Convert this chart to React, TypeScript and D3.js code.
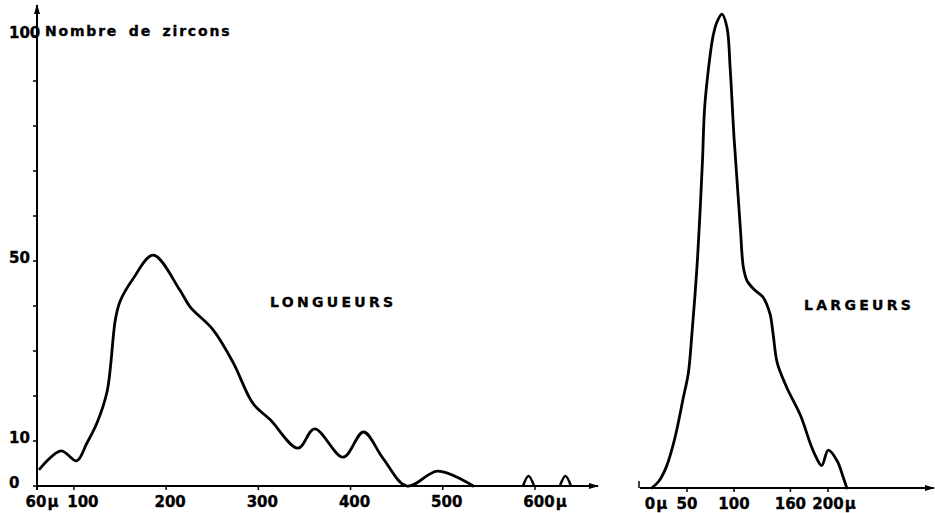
import React, { useRef, useEffect } from 'react';
import * as d3 from 'd3';

// Longueurs (µ) -> nombre de zircons
const longX = [63, 86, 103, 114, 125, 136, 145, 150, 164, 186, 215, 226, 251, 273, 294, 313, 343, 361, 392, 414, 435, 461, 494, 522, 533];
const longY = [3.8, 7.8, 5.6, 9.5, 14, 21, 37, 41, 46, 51.3, 43.5, 39.8, 34.7, 27.3, 18.4, 14.7, 8.4, 12.7, 6.4, 12, 6.2, 0, 3.3, 1.3, 0];
const bump1X = [587, 593, 599];
const bump2X = [627, 633, 639];
const bumpY = [0, 2.2, 0];

// Largeurs (µ) -> nombre de zircons
const largX = [12.4, 20, 28, 37, 46, 51.4, 55.3, 60.6, 63.8, 66.5, 68.6, 72.3, 77.7, 82, 87.2, 92.5, 96, 100, 104, 107, 110, 114, 122, 130.9, 138.3, 141.5, 146, 156, 171, 181, 187, 193.3, 200.3, 209.8, 216, 220];
const largY = [0, 1.5, 4.7, 11, 20, 25.5, 34.4, 49.1, 61.1, 72.9, 84, 92.2, 100.4, 103.6, 105.3, 102.4, 93, 78, 66, 57, 49, 46, 44, 42.4, 38.7, 34.4, 27.8, 22.4, 16, 10, 7, 5, 8.4, 6, 2.5, 0];

const yTicks = [0, 10, 20, 30, 40, 50, 60, 70, 80, 90, 100];
const yLabels = ['0', '10', '50', '100'];
const longTicks = [100, 200, 300, 400, 500, 600];
const longLabels = [
  { v: 60, num: '60', unit: 'µ' },
  { v: 100, num: '100', unit: '' },
  { v: 200, num: '200', unit: '' },
  { v: 300, num: '300', unit: '' },
  { v: 400, num: '400', unit: '' },
  { v: 500, num: '500', unit: '' },
  { v: 600, num: '600', unit: 'µ' },
];
const largTicks = [50, 100, 160, 200];
const largLabels = [
  { v: 0, num: '0', unit: 'µ' },
  { v: 50, num: '50', unit: '' },
  { v: 100, num: '100', unit: '' },
  { v: 160, num: '160', unit: '' },
  { v: 200, num: '200', unit: 'µ' },
];

const FONT = "'DejaVu Sans', sans-serif";

function ZirconChart() {
  const svgRef = useRef<SVGSVGElement>(null);

  useEffect(() => {
    if (!svgRef.current) return;
    const svg = d3.select(svgRef.current);
    svg.selectAll('*').remove();

    svg.append('defs').append('marker')
      .attr('id', 'arrow')
      .attr('viewBox', '0 0 10 6')
      .attr('refX', 9).attr('refY', 3)
      .attr('markerWidth', 10).attr('markerHeight', 6)
      .attr('markerUnits', 'userSpaceOnUse')
      .attr('orient', 'auto')
      .append('path').attr('d', 'M0,0 L10,3 L0,6 Z').attr('fill', '#000');

    // scales
    const xL = d3.scaleLinear().domain([60, 600]).range([37, 535]);
    const yL = d3.scaleLinear().domain([0, 100]).range([486, 36]);
    const xR = d3.scaleLinear().domain([0, 200]).range([640, 828]);
    const yR = d3.scaleLinear().domain([0, 100]).range([488, 38]);

    const g = svg.append('g');

    const boldText = (sel: any, size: number) => sel
      .attr('font-family', FONT).attr('font-weight', 'bold')
      .attr('font-size', size)
      .attr('stroke', '#000').attr('stroke-width', 0.35);

    // left y axis
    g.append('line')
      .attr('x1', xL(60)).attr('x2', xL(60))
      .attr('y1', yL(0) + 4).attr('y2', 5)
      .attr('stroke', '#000').attr('stroke-width', 2)
      .attr('marker-end', 'url(#arrow)');
    g.selectAll('.ytick').data(yTicks).enter().append('line')
      .attr('x1', xL(60) - 4).attr('x2', xL(60))
      .attr('y1', d => yL(d)).attr('y2', d => yL(d))
      .attr('stroke', '#000').attr('stroke-width', 1.5);
    boldText(g.selectAll('.ylab').data(yLabels).enter().append('text'), 15)
      .attr('x', 9).attr('y', (d: string) => yL(+d) + 2)
      .text((d: string) => d);

    boldText(g.append('text'), 14)
      .attr('x', 45).attr('y', 36)
      .attr('letter-spacing', 1.8).attr('word-spacing', 4)
      .text('Nombre de zircons');

    // left x axis
    g.append('line')
      .attr('x1', xL(60)).attr('x2', 598)
      .attr('y1', yL(0)).attr('y2', yL(0))
      .attr('stroke', '#000').attr('stroke-width', 2)
      .attr('marker-end', 'url(#arrow)');
    g.selectAll('.xtickL').data(longTicks).enter().append('line')
      .attr('x1', d => xL(d)).attr('x2', d => xL(d))
      .attr('y1', yL(0) - 1).attr('y2', yL(0) + 4)
      .attr('stroke', '#000').attr('stroke-width', 1.5);

    // small nudges of the hand-lettered labels
    const nudge = (v: number, panel: string) => {
      if (panel === 'R') return v === 0 ? 10 : 0;
      if (v === 60) return -1;
      if (v === 100) return 9;
      return 4;
    };

    const addLabels = (data: typeof longLabels, sx: d3.ScaleLinear<number, number>, y: number, panel: string) => {
      data.forEach(d => {
        const cx = sx(d.v) + nudge(d.v, panel);
        const t = boldText(g.append('text'), 15)
          .attr('x', cx).attr('y', y)
          .attr('text-anchor', 'middle')
          .text(d.num);
        if (d.unit) {
          const w = (t.node() as SVGTextElement).getComputedTextLength();
          boldText(g.append('text'), 15)
            .attr('x', cx + w / 2 + 1).attr('y', y)
            .text(d.unit);
        }
      });
    };
    addLabels(longLabels, xL, 507, 'L');

    // right x axis
    g.append('line')
      .attr('x1', xR(0)).attr('x2', 934)
      .attr('y1', yR(0)).attr('y2', yR(0))
      .attr('stroke', '#000').attr('stroke-width', 2)
      .attr('marker-end', 'url(#arrow)');
    g.append('line')
      .attr('x1', xR(0) - 1).attr('x2', xR(0) - 1)
      .attr('y1', yR(0)).attr('y2', yR(0) - 7)
      .attr('stroke', '#000').attr('stroke-width', 1.5);
    g.selectAll('.xtickR').data(largTicks).enter().append('line')
      .attr('x1', d => xR(d)).attr('x2', d => xR(d))
      .attr('y1', yR(0) - 1).attr('y2', yR(0) + 4)
      .attr('stroke', '#000').attr('stroke-width', 1.5);
    addLabels(largLabels, xR, 509, 'R');

    // curves
    const lineL = d3.line<number>()
      .x((_, i) => xL(longX[i])).y(d => yL(d))
      .curve(d3.curveCatmullRom.alpha(0.5));
    g.append('path').datum(longY).attr('d', lineL)
      .attr('fill', 'none').attr('stroke', '#000').attr('stroke-width', 2.8)
      .attr('stroke-linejoin', 'round').attr('stroke-linecap', 'round');

    [bump1X, bump2X].forEach(bx => {
      const lb = d3.line<number>()
        .x((_, i) => xL(bx[i])).y(d => yL(d))
        .curve(d3.curveCardinal.tension(0));
      g.append('path').datum(bumpY).attr('d', lb)
        .attr('fill', 'none').attr('stroke', '#000').attr('stroke-width', 2.5);
    });

    const lineR = d3.line<number>()
      .x((_, i) => xR(largX[i])).y(d => yR(d))
      .curve(d3.curveCatmullRom.alpha(0.5));
    g.append('path').datum(largY).attr('d', lineR)
      .attr('fill', 'none').attr('stroke', '#000').attr('stroke-width', 2.8)
      .attr('stroke-linejoin', 'round').attr('stroke-linecap', 'round');

    // titles
    boldText(g.append('text'), 14)
      .attr('x', 270).attr('y', 307)
      .attr('letter-spacing', 3.3)
      .text('LONGUEURS');
    boldText(g.append('text'), 14)
      .attr('x', 804).attr('y', 310)
      .attr('letter-spacing', 3.3)
      .text('LARGEURS');
  }, []);

  return (
    <svg ref={svgRef} width={935} height={513}
      style={{ position: 'absolute', left: 0, top: 0, background: '#fff' }} />
  );
}

export default function App() {
  return <ZirconChart />;
}
